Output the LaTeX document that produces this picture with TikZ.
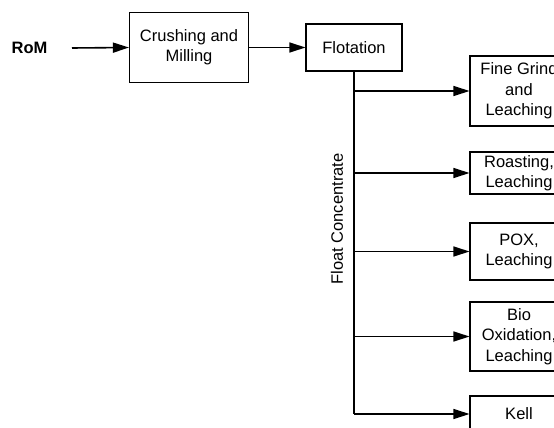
\documentclass[tikz,border=0pt]{standalone}
\usepackage{fontspec}
\setmainfont{Liberation Sans}
\usetikzlibrary{arrows.meta}
\begin{document}
\begin{tikzpicture}[x=1pt,y=-1pt,
  txt/.style={font=\fontsize{16.5}{20.3}\selectfont, inner sep=0pt},
  box/.style={txt, draw, line width=1.1pt, align=center},
  flow/.style={line width=1.6pt, -{Triangle[length=16pt,width=10pt]}},
  trunk/.style={line width=2.6pt}]
\useasboundingbox (0,0) rectangle (554,428);
\clip (0,0) rectangle (554,428);
\node[txt, font=\fontsize{16.5}{20.3}\selectfont\bfseries] (rom) at (29.5,48) {RoM};
\coordinate (romend) at (72,48);
\node[box, minimum width=119, minimum height=70] (crush) at (189,47.5) {Crushing and\\Milling};
\node[box, minimum width=96, minimum height=47] (flot) at (354,47.5) {Flotation};
\node[box, minimum width=98, minimum height=70] (fine) at (519,91) {Fine Grind\\and\\Leaching};
\node[box, minimum width=98, minimum height=42] (roast) at (519,173) {Roasting,\\Leaching};
\node[box, minimum width=98, minimum height=57] (pox) at (519,251.5) {POX,\\Leaching};
\node[box, minimum width=98, minimum height=69] (bio) at (519,336.5) {Bio\\Oxidation,\\Leaching};
\node[box, minimum width=98, minimum height=36] (kell) at (519,414) {Kell};
\node[txt, rotate=90] (fc) at (337,219) {Float Concentrate};
\draw[flow] (romend) -- (crush.west);
\draw[flow] (crush.east) -- (flot.west);
\coordinate (b1) at (flot.south |- fine.west);
\coordinate (b2) at (flot.south |- roast.west);
\coordinate (b3) at (flot.south |- pox.west);
\coordinate (b4) at (flot.south |- bio.west);
\coordinate (b5) at (flot.south |- kell.west);
\draw[trunk] (flot.south) -- (b5);
\draw[flow] (b1) -- (fine.west);
\draw[flow] (b2) -- (roast.west);
\draw[flow] (b3) -- (pox.west);
\draw[flow] (b4) -- (bio.west);
\draw[flow] (b5) -- (kell.west);
\end{tikzpicture}
\end{document}
